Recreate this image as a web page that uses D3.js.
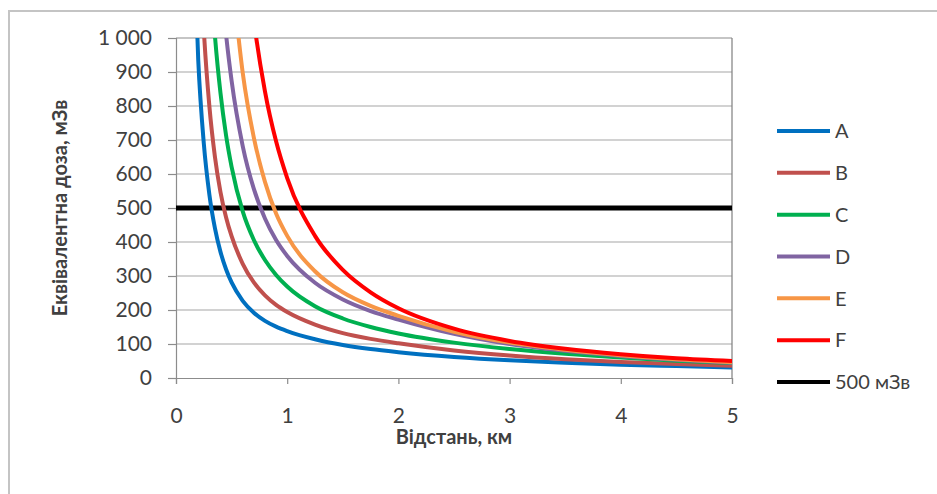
<!DOCTYPE html>
<html><head><meta charset="utf-8">
<script src="https://cdn.jsdelivr.net/npm/d3@7"></script>
<style>
body{margin:0;background:#fff}
svg{display:block}
text{font-family:Lato,'Open Sans','Noto Sans',sans-serif;fill:#404040}
</style>
</head><body>
<svg id="c" width="937" height="494"></svg>
<script>
// ---- data ----
const distance = [0.15,0.2,0.25,0.3,0.35,0.4,0.45,0.5,0.6,0.7,0.8,0.9,1.0,1.25,1.5,1.75,2,2.5,3,3.5,4,4.5,5];
const seriesNames = ["A","B","C","D","E","F"];
const doseA = [1390,935,690,540,441,371,320,281,227,192,168,151,138,114,97,85,76,62,52,45,39,35,31];
const doseB = [null,1401,1025,800,651,547,473,417,336,281,243,215,194,157,132,115,102,81,66,55,47,41,36];
const doseC = [null,null,null,1250,1007,838,714,621,490,406,347,303,269,211,175,150,131,104,85,71,60,51,44];
const doseD = [null,null,null,null,null,1192,1011,874,682,556,469,406,359,280,231,197,172,130,100,80,65,54,45];
const doseE = [null,null,null,null,null,null,null,1198,898,707,577,484,418,314,252,212,183,136,104,83,67,55,46];
const doseF = [null,null,null,null,null,null,null,null,1369,1053,843,696,588,418,318,252,205,145,109,86,70,58,50];
const seriesDose = [doseA,doseB,doseC,doseD,doseE,doseF];
const seriesColors = ["#0070C0","#C0504D","#00B050","#8064A2","#F79646","#FF0000"];
const thresholdValue = 500;
const thresholdLabel = "500 мЗв";
const thresholdColor = "#000000";
const xTicks = [0,1,2,3,4,5];
const yTicks = [0,100,200,300,400,500,600,700,800,900,1000];
const yTickLabels = ["0","100","200","300","400","500","600","700","800","900","1 000"];
const xTitle = "Відстань, км";
const yTitle = "Еквівалентна доза, мЗв";

// ---- layout ----
const svg = d3.select("#c");
const L = 176, R = 732, T = 38, B = 378;
const x = d3.scaleLinear().domain([0,5]).range([L,R]);
const y = d3.scaleLinear().domain([0,1000]).range([B,T]);

// outer chart border (top & left visible)
svg.append("rect").attr("x",9).attr("y",11).attr("width",960).attr("height",520)
  .attr("fill","#fff").attr("stroke","#c4c4c4").attr("stroke-width",2);

// gridlines
svg.append("g").selectAll("line").data(yTicks.filter(d=>d>0)).join("line")
  .attr("x1",L).attr("x2",R).attr("y1",d=>y(d)).attr("y2",d=>y(d))
  .attr("stroke",d=>d===1000?"#8c8c8c":"#a6a6a6").attr("stroke-width",1.2);

// right border of plot
svg.append("line").attr("x1",R).attr("x2",R).attr("y1",T).attr("y2",B)
  .attr("stroke","#7f7f7f").attr("stroke-width",1.2);

// y axis
const yAxis = svg.append("g").attr("transform",`translate(${L},0)`)
  .call(d3.axisLeft(y).tickValues(yTicks).tickFormat((d,i)=>yTickLabels[i]).tickSize(8).tickPadding(16));
yAxis.select(".domain").attr("stroke","#8c8c8c").attr("stroke-width",1.2);
yAxis.selectAll(".tick line").attr("stroke","#8c8c8c").attr("stroke-width",1.2);
yAxis.selectAll(".tick text").attr("font-size",21).attr("fill","#404040")
  .style("font-family","Lato,'Open Sans',sans-serif");

// x axis
const xAxis = svg.append("g").attr("transform",`translate(0,${B})`)
  .call(d3.axisBottom(x).tickValues(xTicks).tickFormat(d3.format("d")).tickSize(6).tickPadding(24));
xAxis.select(".domain").attr("stroke","#8c8c8c").attr("stroke-width",1.2);
xAxis.selectAll(".tick line").attr("stroke","#8c8c8c").attr("stroke-width",1.2);
xAxis.selectAll(".tick text").attr("font-size",21).attr("fill","#404040")
  .style("font-family","Lato,'Open Sans',sans-serif");

// clip
svg.append("clipPath").attr("id","clip").append("rect")
  .attr("x",L).attr("y",T).attr("width",R-L).attr("height",B-T);

const line = d3.line().defined(d=>d[1]!=null)
  .x(d=>x(d[0])).y(d=>y(d[1])).curve(d3.curveMonotoneX);

const plot = svg.append("g").attr("clip-path","url(#clip)");
// threshold line
plot.append("line").attr("x1",x(0)).attr("x2",x(5))
  .attr("y1",y(thresholdValue)).attr("y2",y(thresholdValue))
  .attr("stroke",thresholdColor).attr("stroke-width",5);

seriesDose.forEach((vals,i)=>{
  plot.append("path")
    .datum(distance.map((d,j)=>[d,vals[j]]))
    .attr("d",line).attr("fill","none")
    .attr("stroke",seriesColors[i]).attr("stroke-width",4)
    .attr("stroke-linejoin","round");
});

// legend
const legendItems = seriesNames.map((n,i)=>({name:n,color:seriesColors[i]}))
  .concat([{name:thresholdLabel,color:thresholdColor}]);
const ly = d3.scaleLinear().domain([0,legendItems.length-1]).range([131,382]);
const lg = svg.append("g").selectAll("g").data(legendItems).join("g")
  .attr("transform",(d,i)=>`translate(0,${ly(i)})`);
lg.append("line").attr("x1",777).attr("x2",830).attr("y1",0).attr("y2",0)
  .attr("stroke",d=>d.color).attr("stroke-width",4);
lg.append("text").attr("x",835).attr("y",0).attr("dy","0.36em")
  .attr("font-size",20).text(d=>d.name);

// axis titles
svg.append("text").attr("x",454).attr("y",437).attr("dy","0.36em")
  .attr("text-anchor","middle").attr("font-size",20).attr("font-weight","bold")
  .text(xTitle);
svg.append("text").attr("transform","translate(60,208) rotate(-90)")
  .attr("dy","0.36em").attr("text-anchor","middle").attr("font-size",20)
  .attr("font-weight","bold").text(yTitle);
</script>
</body></html>
